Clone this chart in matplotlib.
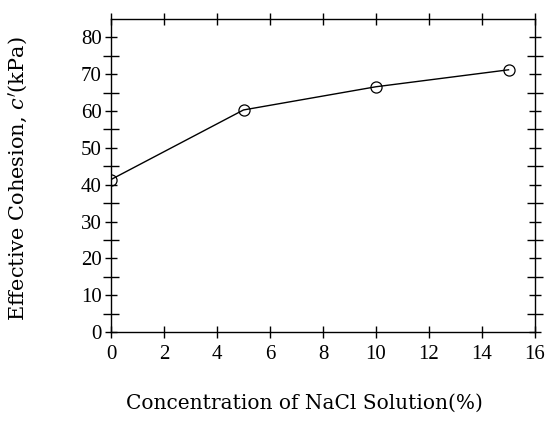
import matplotlib.pyplot as plt
import numpy as np

# NaCl concentration (%) vs effective cohesion c' (kPa)
conc = [0, 5, 10, 15]
cohesion = [41.4, 60.3, 66.6, 71.2]

xticks = [0, 2, 4, 6, 8, 10, 12, 14, 16]
yticks = [0, 10, 20, 30, 40, 50, 60, 70, 80]

plt.rcParams['font.family'] = ['DejaVu Serif']
plt.rcParams['mathtext.fontset'] = 'dejavuserif'

fig = plt.figure(figsize=(5.45, 4.21), dpi=100)
ax = fig.add_axes([0.2037, 0.2114, 0.778, 0.7435])

ax.plot(conc, cohesion, color='black', lw=1.0, marker='o', ms=8,
        mfc='none', mec='black', mew=0.9)

ax.set_xlim(0, 16)
ax.set_ylim(0, 85)
ax.set_xticks(xticks)
ax.set_yticks(yticks)
ax.set_yticks(np.arange(5, 85, 10), minor=True)

ax.tick_params(axis='x', which='major', direction='inout', length=9, width=1,
               top=True, pad=5)
ax.tick_params(axis='y', which='major', direction='inout', length=9, width=1,
               right=True, pad=2)
ax.tick_params(axis='y', which='minor', direction='inout', length=11, width=1,
               right=True)
for lbl in ax.get_xticklabels() + ax.get_yticklabels():
    lbl.set_family('Liberation Serif')
    lbl.set_fontsize(15)

for s in ax.spines.values():
    s.set_linewidth(1.0)

ax.set_xlabel('Concentration of NaCl Solution(%)', fontsize=14.5)
ax.set_ylabel("Effective Cohesion, $c'$(kPa)", fontsize=15)
ax.xaxis.set_label_coords(0.455, -0.198)
ax.yaxis.set_label_coords(-0.19, 0.49)

fig.savefig('out.png', dpi=100)
